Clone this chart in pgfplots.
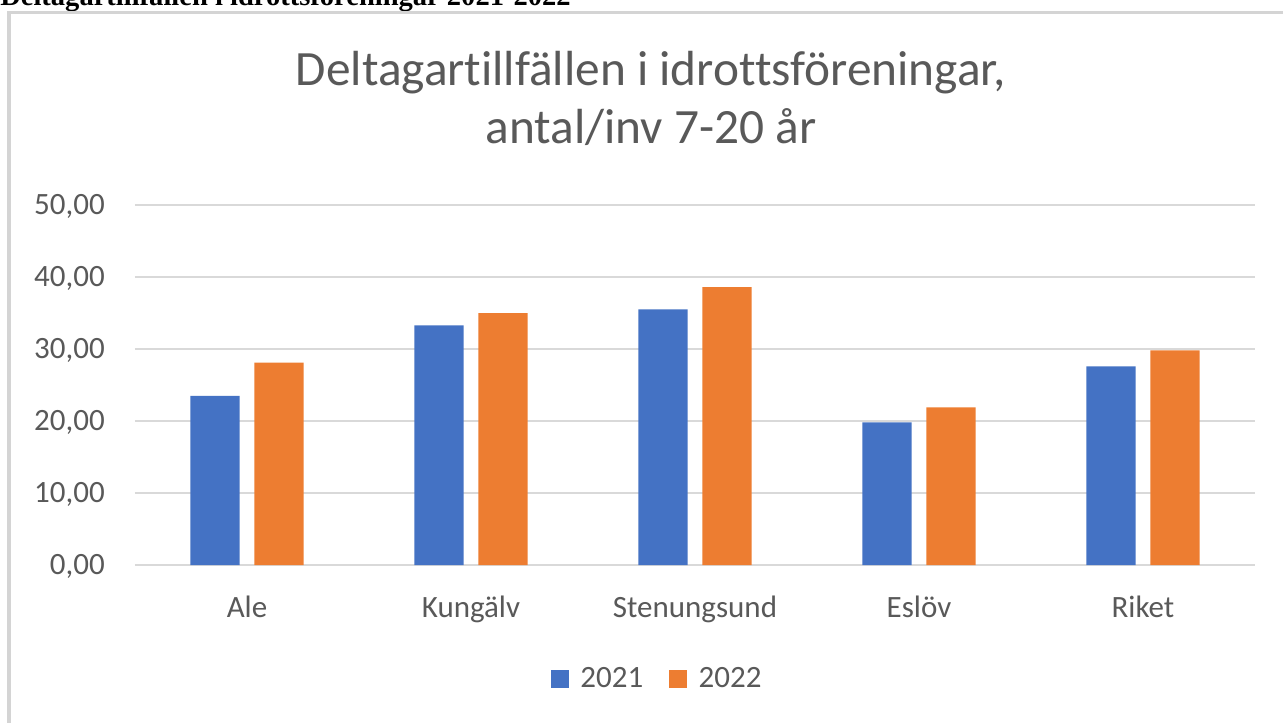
\documentclass[border=0pt]{standalone}
\usepackage{fontspec}
\setmainfont{Carlito}[Ligatures={NoCommon}]
\newfontfamily\timesfont{Liberation Serif}
\usepackage{pgfplots}
\pgfplotsset{compat=1.18}
\definecolor{cblue}{HTML}{4472C4}
\definecolor{corange}{HTML}{ED7D31}
\definecolor{cgrid}{HTML}{D9D9D9}
\definecolor{cframe}{HTML}{D4D4D4}
\definecolor{ctext}{HTML}{595959}
\begin{document}
\begin{tikzpicture}
\useasboundingbox (0,0) rectangle (962.25pt,-541.5pt);
\fill[white] (0,0) rectangle (962.25pt,-541.5pt);
\node[anchor=base west, inner sep=0pt, font=\timesfont\bfseries\fontsize{21.4}{25}\selectfont] at (0pt,-3.75pt) {Deltagartillfällen i idrottsföreningar 2021-2022};
\draw[cframe, line width=2.6pt] (6.75pt,-9.4pt) rectangle (1000pt,-560pt);
\node[anchor=base, inner sep=0pt, text=ctext, font=\fontsize{37}{41}\selectfont] at (488.25pt,-64pt) {Deltagartillfällen i idrottsföreningar,};
\node[anchor=base, inner sep=0pt, text=ctext, font=\fontsize{37}{41}\selectfont] at (488.25pt,-107.25pt) {antal/inv 7-20 år};
\begin{axis}[
  at={(101.25pt,-423.75pt)}, anchor=south west,
  width=840pt, height=270pt, scale only axis,
  ymin=0, ymax=50, xmin=-0.5, xmax=4.5,
  ytick={0,10,...,50}, xtick={0,...,4},
  xticklabels={Ale,Kungälv,Stenungsund,Eslöv,Riket},
  axis line style={draw=none},
  major tick length=0pt,
  ymajorgrids, grid style={cgrid, line width=1.5pt},
  yticklabel style={anchor=base east, inner sep=0pt, xshift=-22.5pt, yshift=-7.35pt, text=ctext, font=\fontsize{23.25}{28}\selectfont},
  xticklabel style={anchor=base, inner sep=0pt, yshift=-39pt, text=ctext, font=\fontsize{23.25}{28}\selectfont},
  /pgf/number format/.cd, fixed, fixed zerofill, precision=2, use comma, assume math mode=true, /pgfplots/.cd,
  legend style={draw=none, fill=none, at={(0.4665,-0.3153)}, anchor=center, legend columns=2,
    font=\fontsize{23.25}{28}\selectfont, text=ctext,
    /tikz/every odd column/.append style={column sep=6.75pt},
    /tikz/every even column/.append style={column sep=17.25pt}},
  legend image code/.code={\fill[#1] (0pt,-6.75pt) rectangle (13.5pt,6.75pt);},
]
\addplot[ybar, fill=cblue, draw=none, bar width=37.1pt, bar shift=-24pt] coordinates {(0,23.5) (1,33.3) (2,35.5) (3,19.8) (4,27.6)};
\addplot[ybar, fill=corange, draw=none, bar width=37.1pt, bar shift=24pt] coordinates {(0,28.1) (1,35.0) (2,38.6) (3,21.9) (4,29.8)};
\legend{2021,2022}
\end{axis}
\end{tikzpicture}
\end{document}
